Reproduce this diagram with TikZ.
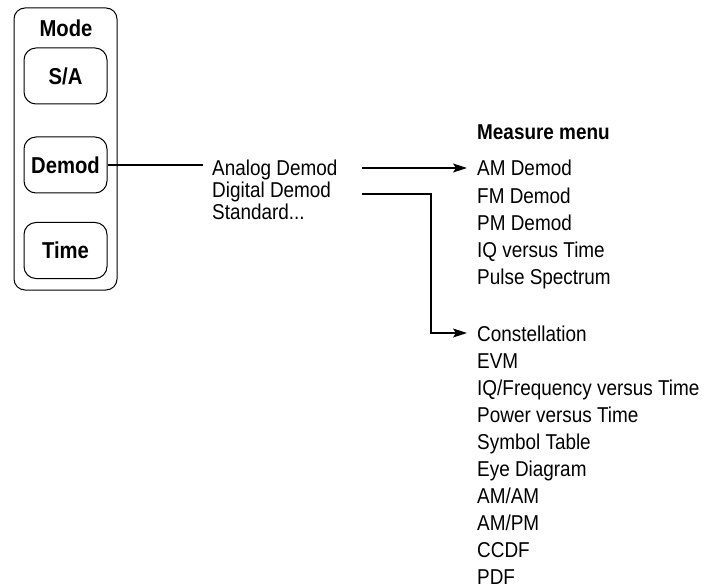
\documentclass[tikz,border=0pt]{standalone}
\usepackage{fontspec}
\setmainfont[FakeStretch=0.88]{Liberation Sans}
\usetikzlibrary{arrows.meta}
\begin{document}
\begin{tikzpicture}[x=1pt,y=-1pt,
  txt/.style={anchor=base west,inner sep=0pt,font=\fontsize{21.5}{22}\selectfont},
  hdr/.style={anchor=base west,inner sep=0pt,font=\fontsize{21.5}{22}\selectfont\bfseries},
  btn/.style={draw,line width=1pt,rounded corners=12pt,minimum width=83pt,minimum height=56pt,inner sep=0pt,font=\fontsize{23}{24}\selectfont\bfseries},
  line/.style={line width=1.2pt},
  arr/.style={line width=1.2pt,-{Stealth[length=14pt,width=9pt,inset=3pt]},shorten >=10pt}]
\useasboundingbox (0,0) rectangle (707,588);
% mode panel
\node (panel) [draw,line width=1pt,rounded corners=11pt,minimum width=103pt,minimum height=282pt,inner sep=0pt] at (65.5,149) {};
\node (mode) [inner sep=0pt,font=\fontsize{23}{24}\selectfont\bfseries] at (66,28) {Mode};
\node (sa) [btn] at (65.5,76) {S/A};
\node (demod) [btn] at (65.5,165) {Demod};
\node (time) [btn] at (65.5,250.5) {Time};
% middle list
\node (analog) [txt] at (212,176) {Analog Demod};
\node (digital) [txt] at (212,198) {Digital Demod};
\node (standard) [txt] at (212,220) {Standard...};
% right lists
\node (measure) [hdr] at (477,140) {Measure menu};
\node (am) [txt] at (477,176) {AM Demod};
\node (fm) [txt] at (477,203.2) {FM Demod};
\node (pm) [txt] at (477,230.4) {PM Demod};
\node (iq) [txt] at (477,257.6) {IQ versus Time};
\node (pulse) [txt] at (477,284.8) {Pulse Spectrum};
\node (const) [txt] at (477,341) {Constellation};
\node (evm) [txt] at (477,368.1) {EVM};
\node (iqf) [txt] at (477,395.2) {IQ/Frequency versus Time};
\node (pvt) [txt] at (477,422.3) {Power versus Time};
\node (sym) [txt] at (477,449.4) {Symbol Table};
\node (eye) [txt] at (477,476.5) {Eye Diagram};
\node (amam) [txt] at (477,503.6) {AM/AM};
\node (ampm) [txt] at (477,530.7) {AM/PM};
\node (ccdf) [txt] at (477,557.8) {CCDF};
\node (pdf) [txt] at (477,584.9) {PDF};
% connectors
\draw[line,shorten >=9pt] (demod.east) -- (demod.east -| analog.west);
\coordinate (s1) at (362,168);
\coordinate (s2) at (362,194);
\coordinate (c2) at (431,333);
\draw[arr] (s1) -- (s1 -| am.west);
\draw[arr] (s2) -| (c2) -- (c2 -| const.west);
\end{tikzpicture}
\end{document}
